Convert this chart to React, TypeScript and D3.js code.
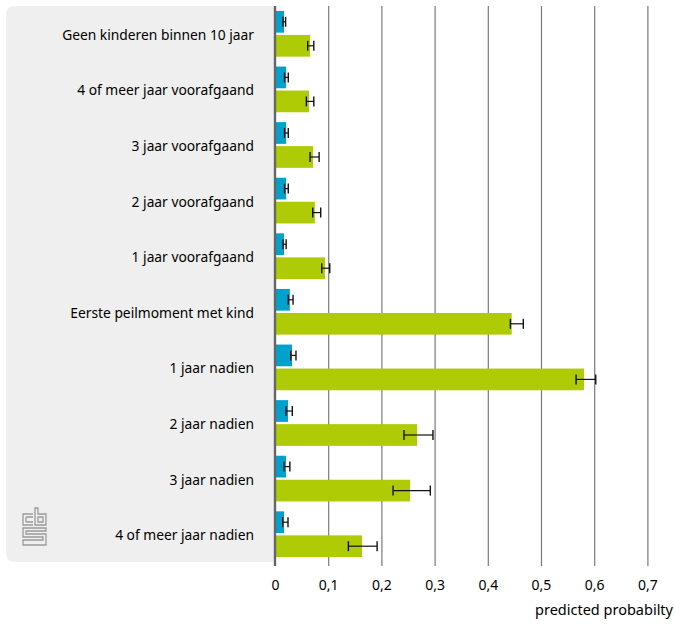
import React, { useEffect, useRef } from 'react';
import * as d3 from 'd3';

const CATEGORIES = [
  'Geen kinderen binnen 10 jaar',
  '4 of meer jaar voorafgaand',
  '3 jaar voorafgaand',
  '2 jaar voorafgaand',
  '1 jaar voorafgaand',
  'Eerste peilmoment met kind',
  '1 jaar nadien',
  '2 jaar nadien',
  '3 jaar nadien',
  '4 of meer jaar nadien',
];

// blue series (top bar of each pair)
const BLUE = [0.016, 0.02, 0.02, 0.02, 0.016, 0.027, 0.031, 0.0235, 0.0197, 0.016];
const BLUE_LO = [0.014, 0.017, 0.017, 0.017, 0.014, 0.024, 0.0286, 0.0197, 0.016, 0.0135];
const BLUE_HI = [0.019, 0.024, 0.024, 0.024, 0.02, 0.033, 0.0385, 0.0316, 0.027, 0.0235];

// green series (bottom bar of each pair)
const GREEN = [0.065, 0.063, 0.0705, 0.074, 0.093, 0.444, 0.58, 0.266, 0.253, 0.1626];
const GREEN_LO = [0.0605, 0.058, 0.065, 0.07, 0.087, 0.4415, 0.565, 0.2415, 0.221, 0.137];
const GREEN_HI = [0.072, 0.072, 0.082, 0.085, 0.102, 0.4658, 0.602, 0.296, 0.291, 0.191];

const TICKS = [0, 0.1, 0.2, 0.3, 0.4, 0.5, 0.6, 0.7];
const X_TITLE = 'predicted probabilty';

export default function App() {
  const svgRef = useRef<SVGSVGElement>(null);

  useEffect(() => {
    if (!svgRef.current) return;
    const width = 675;
    const height = 624;
    const font = '"Noto Sans", sans-serif';

    const svg = d3.select(svgRef.current);
    svg.selectAll('*').remove();
    svg.attr('viewBox', `0 0 ${width} ${height}`);

    const top = 6;
    const bottom = 562;
    const x0 = 275.5;

    const x = d3.scaleLinear().domain([0, 1]).range([x0, x0 + 532]);
    const band = d3.scaleBand<string>().domain(CATEGORIES).range([top, bottom]).padding(0);

    // grey label panel with rounded left corners
    const r = 9;
    const px = 6;
    svg.append('path')
      .attr('d', `M${x0},${top} L${px + r},${top} Q${px},${top} ${px},${top + r} L${px},${bottom - r} Q${px},${bottom} ${px + r},${bottom} L${x0},${bottom} Z`)
      .attr('fill', '#efefef');

    // grid lines
    svg.append('g').selectAll('line')
      .data(TICKS.slice(1))
      .join('line')
      .attr('x1', d => x(d)).attr('x2', d => x(d))
      .attr('y1', top).attr('y2', bottom + 4)
      .attr('stroke', '#7a7a7a')
      .attr('stroke-width', 1.2);

    // tick labels
    svg.append('g').selectAll('text')
      .data(TICKS)
      .join('text')
      .attr('x', d => x(d))
      .attr('y', 590)
      .attr('text-anchor', 'middle')
      .style('font-family', font)
      .style('font-size', '14px')
      .attr('fill', '#000')
      .text(d => d3.format('.1~f')(d).replace('.', ','));

    svg.append('text')
      .attr('x', 673)
      .attr('y', 615)
      .attr('text-anchor', 'end')
      .style('font-family', font)
      .style('font-size', '14.5px')
      .attr('fill', '#000')
      .text(X_TITLE);

    const barH = 21.7;
    const gap = 2.3;
    const pad = (band.bandwidth() - 2 * barH - gap) / 2;

    const groups = svg.append('g').selectAll('g')
      .data(CATEGORIES)
      .join('g')
      .attr('transform', d => `translate(0,${band(d)})`);

    groups.append('text')
      .attr('x', 254)
      .attr('y', band.bandwidth() / 2 + 6)
      .attr('text-anchor', 'end')
      .style('font-family', font)
      .style('font-size', '13.8px')
      .attr('fill', '#000')
      .text(d => d);

    const series = [
      { vals: BLUE, lo: BLUE_LO, hi: BLUE_HI, color: '#00a1cd', y: pad },
      { vals: GREEN, lo: GREEN_LO, hi: GREEN_HI, color: '#afcb05', y: pad + barH + gap },
    ];

    series.forEach(s => {
      groups.append('rect')
        .attr('x', x(0))
        .attr('y', s.y)
        .attr('width', (_, i) => x(s.vals[i]) - x(0))
        .attr('height', barH)
        .attr('fill', s.color);

      const cy = s.y + barH / 2;
      groups.append('line')
        .attr('x1', (_, i) => x(s.lo[i])).attr('x2', (_, i) => x(s.hi[i]))
        .attr('y1', cy).attr('y2', cy)
        .attr('stroke', '#111').attr('stroke-width', 1.2);
      [s.lo, s.hi].forEach(arr => {
        groups.append('line')
          .attr('x1', (_, i) => x(arr[i])).attr('x2', (_, i) => x(arr[i]))
          .attr('y1', cy - 5).attr('y2', cy + 5)
          .attr('stroke', '#111').attr('stroke-width', 1.4);
      });
    });

    // zero axis
    svg.append('line')
      .attr('x1', x(0) - 0.5).attr('x2', x(0) - 0.5)
      .attr('y1', top).attr('y2', bottom + 4)
      .attr('stroke', '#666')
      .attr('stroke-width', 2.4);

    // cbs logo (simplified)
    const logo = svg.append('g')
      .attr('transform', 'translate(22,507)')
      .attr('fill', 'none')
      .attr('stroke', '#9a9a9a')
      .attr('stroke-width', 1.3);
    logo.append('path').attr('d', 'M11,7 L1,7 L1,18 L11,18 M4,10 L11,10 M4,15 L11,15 M4,10 L4,15');
    logo.append('path').attr('d', 'M13,1 L16,1 L16,7 L24,7 L24,18 L13,18 Z M16,10 L21,10 L21,15 L16,15 Z');
    logo.append('path').attr('d', 'M24,21 L1,21 L1,30 L21,30 L21,33 L1,33 L1,38 L24,38 L24,27 L4,27 L4,24 L24,24 Z');
  }, []);

  return (
    <svg
      ref={svgRef}
      width={675}
      height={624}
      style={{ position: 'absolute', left: 0, top: 0, background: '#fff' }}
    />
  );
}
